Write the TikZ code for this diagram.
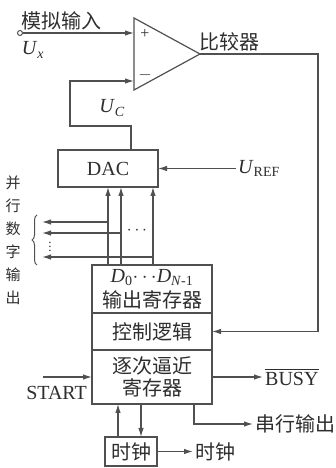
\documentclass[tikz,border=0pt]{standalone}
\usepackage{fontspec}
\setmainfont{Liberation Serif}
\newfontfamily\cjk{Noto Sans CJK SC}
\usepackage{tikz}
\usetikzlibrary{arrows.meta,positioning,calc,decorations.pathreplacing}
\definecolor{SarLine}{HTML}{505050}
\definecolor{SarInk}{HTML}{2E2E2E}

\begin{document}
\begin{tikzpicture}[
  x=1pt, y=1pt,
  every node/.style={text=SarInk, inner sep=2pt},
  blk/.style={draw=SarLine, line width=1.3pt, fill=white, minimum width=120pt, inner sep=1pt, outer sep=0pt, align=center, font=\cjk\fontsize{20}{25}\selectfont},
  lbl/.style={font=\cjk\fontsize{20}{24}\selectfont},
  ltr/.style={font=\fontsize{20}{24}\selectfont},
  sml/.style={font=\fontsize{16}{16}\selectfont},
  wire/.style={draw=SarLine, line width=1.2pt},
  arrow/.style={wire, -{Latex[length=9pt,width=5.5pt]}}
]
\useasboundingbox (0,0) rectangle (336,468);

% comparator
\draw[wire, fill=white] (134,450) -- (200,414) -- (134,378) -- cycle;
\coordinate (cmpP) at (134,435);
\coordinate (cmpN) at (134,387);
\coordinate (cmpOut) at (200,414);
\node[sml] (plus) at (145,434) {+};
\node[sml] (minus) at (145,393) {$-$};
\node[lbl] (cmplbl) at (229,426) {比较器};

\node[circle, draw=SarLine, line width=1pt, minimum size=5pt, inner sep=0pt] (uxin) at (20,435) {};
\node[lbl] (analog) at (61,447) {模拟输入};
\node[ltr] (ux) at (33,418) {\textit{U}\textsubscript{\textit{x}}};

% blocks
\node[blk, font=\fontsize{20}{24}\selectfont, minimum width=100pt, minimum height=37pt] (dac) at (108,299.5) {DAC};
\node[blk, minimum height=48pt] (outreg) at (152,179) {{\rmfamily\textit{D}\textsubscript{0}$\cdots$\textit{D}\textsubscript{\textit{N}-1}}\\输出寄存器};
\node[blk, minimum height=37pt, below=0pt of outreg] (ctrl) {控制逻辑};
\node[blk, minimum height=54pt, below=0pt of ctrl] (sar) {逐次逼近\\[-3pt]寄存器};
\node[blk, minimum width=52pt, minimum height=29pt, below=33pt of sar, xshift=-21pt] (clk) {时钟};

% labels
\node[ltr, anchor=west] (uref) at (236,299.5) {\textit{U}\textsubscript{REF}};
\node[ltr] (uc) at (112,360) {\textit{U}\textsubscript{\textit{C}}};
\node[font=\cjk\fontsize{15}{23}\selectfont, align=center] (parout) at (13,227.5) {并\\行\\数\\字\\输\\出};
\node[ltr, anchor=north east] (start) at ([xshift=-3pt,yshift=-7pt]sar.west) {START};
\node[ltr, right=51pt of sar] (busy) {\vbox{\hrule height 1.1pt\kern 2pt\hbox{BUSY}}};
\node[lbl, anchor=west] (serial) at (253,44) {串行输出};
\node[lbl, right=36pt of clk] (clkout) {时钟};
\node[sml] (hdots) at (137,237) {$\cdots$};
\node[font=\fontsize{13}{13}\selectfont, inner sep=0pt] (vdots) at (50,224) {$\vdots$};

% wires
\draw[arrow] (uxin) -- (cmpP);
\draw[arrow] (cmpOut) -- ++(118,0) |- (ctrl.east);
\coordinate (fbk) at (70,342);
\draw[arrow] ([xshift=23pt]dac.north) |- (fbk) |- (cmpN);
\draw[arrow] (uref) -- (dac);
\foreach \dx/\ly/\i in {-44/246/a, -31/235/b, 1/211/c} {
  \coordinate (bit\i) at (42,\ly);
  \coordinate (tap\i) at ($(outreg.north)+(\dx,0)$);
  \draw[arrow] (tap\i) -- (tap\i |- dac.south);
  \draw[arrow] (tap\i |- bit\i) -- (bit\i);
}
\draw[wire, line width=1pt, decorate, decoration={brace, amplitude=5pt}] (37,203) -- (37,253);

\coordinate (startin) at ([xshift=-49pt]sar.west);
\draw[arrow] (startin) -- (sar.west);
\draw[arrow] (sar) -- (busy);
\draw[arrow] ([xshift=42pt]sar.south) |- (serial);
\coordinate (clkup) at ([xshift=-13pt]clk.north);
\coordinate (clkdn) at ([xshift=10pt]clk.north);
\draw[arrow] (clkup) -- (clkup |- sar.south);
\draw[arrow] (clkdn |- sar.south) -- (clkdn);
\draw[arrow] (clk) -- (clkout);
\end{tikzpicture}
\end{document}
